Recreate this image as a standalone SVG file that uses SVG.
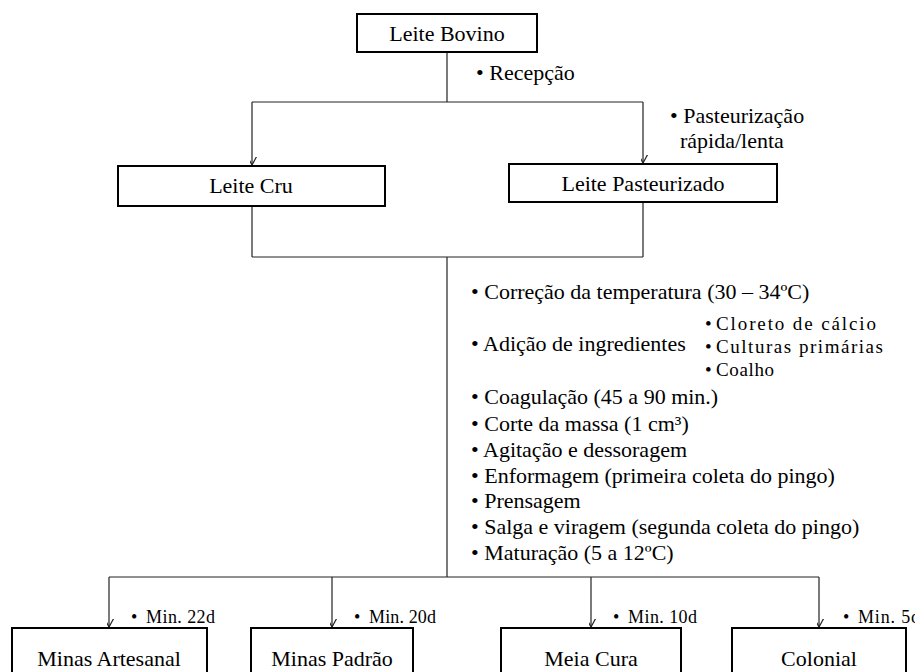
<svg xmlns="http://www.w3.org/2000/svg" width="915" height="672" viewBox="0 0 915 672" font-family="'Liberation Serif', 'DejaVu Serif', serif">
<style>
  text { font-family: 'Liberation Serif', 'DejaVu Serif', serif; fill: #000; }
  .box { fill: #fff; stroke: #000; stroke-width: 2; }
  .lbl { font-size: 22px; text-anchor: middle; }
  .step { font-size: 22px; }
  .sub { font-size: 19px; }
  .min { font-size: 18px; }
  .conn line, .conn path { stroke: #222; stroke-width: 1.2; fill: none; }
</style>
<defs>
  <marker id="arr" markerUnits="userSpaceOnUse" markerWidth="16" markerHeight="14" viewBox="-8 -12 16 14" refX="0" refY="0" orient="auto-start-reverse">
    <path d="M-6,-11 L0,0 L6,-11" fill="none" stroke="#222" stroke-width="1.2" transform="rotate(-90)"/>
  </marker>
</defs>
<rect width="915" height="672" fill="#fff"/>
<g class="conn" id="connectors">
  <line x1="447" y1="52" x2="447" y2="102"/>
  <line x1="252" y1="102" x2="643" y2="102"/>
  <line x1="252" y1="102" x2="252" y2="165" marker-end="url(#arr)"/>
  <line x1="643" y1="102" x2="643" y2="163" marker-end="url(#arr)"/>
  <line x1="252" y1="206" x2="252" y2="257"/>
  <line x1="643" y1="202" x2="643" y2="257"/>
  <line x1="252" y1="257" x2="643" y2="257"/>
  <line x1="447" y1="257" x2="447" y2="577"/>
  <line x1="109" y1="577" x2="819" y2="577"/>
  <line x1="109" y1="577" x2="109" y2="627" marker-end="url(#arr)"/>
  <line x1="332" y1="577" x2="332" y2="627" marker-end="url(#arr)"/>
  <line x1="591" y1="577" x2="591" y2="627" marker-end="url(#arr)"/>
  <line x1="819" y1="577" x2="819" y2="627" marker-end="url(#arr)"/>
</g>
<g id="leite-bovino">
  <rect class="box" x="357" y="14" width="180" height="38"/>
  <text class="lbl" x="447" y="41">Leite Bovino</text>
</g>
<g id="recepcao">
  <text class="step" x="476" y="80">• Recepção</text>
</g>
<g id="pasteurizacao">
  <text class="step" x="670" y="123">• Pasteurização</text>
  <text class="step" x="680" y="148">rápida/lenta</text>
</g>
<g id="leite-cru">
  <rect class="box" x="118" y="166" width="267" height="40"/>
  <text class="lbl" x="251" y="193">Leite Cru</text>
</g>
<g id="leite-pasteurizado">
  <rect class="box" x="509" y="164" width="268" height="38"/>
  <text class="lbl" x="643" y="191">Leite Pasteurizado</text>
</g>
<g id="etapas">
  <text class="step" x="471" y="299">• Correção da temperatura (30 – 34ºC)</text>
  <text class="step" x="471" y="351">• Adição de ingredientes</text>
  <text class="sub" x="705" y="330">•</text>
  <text class="sub" x="716" y="330" textLength="160" lengthAdjust="spacing">Cloreto de cálcio</text>
  <text class="sub" x="705" y="353">•</text>
  <text class="sub" x="716" y="353" textLength="167" lengthAdjust="spacing">Culturas primárias</text>
  <text class="sub" x="705" y="376">•</text>
  <text class="sub" x="716" y="376" textLength="58" lengthAdjust="spacing">Coalho</text>
  <text class="step" x="471" y="404">• Coagulação (45 a 90 min.)</text>
  <text class="step" x="471" y="431">• Corte da massa (1 cm³)</text>
  <text class="step" x="471" y="457">• Agitação e dessoragem</text>
  <text class="step" x="471" y="483">• Enformagem (primeira coleta do pingo)</text>
  <text class="step" x="471" y="508">• Prensagem</text>
  <text class="step" x="471" y="534">• Salga e viragem (segunda coleta do pingo)</text>
  <text class="step" x="471" y="560">• Maturação (5 a 12ºC)</text>
</g>
<g id="minas-artesanal">
  <rect class="box" x="12" y="628" width="195" height="60"/>
  <text class="lbl" x="109" y="666">Minas Artesanal</text>
  <text class="min" x="131" y="623">•</text>
  <text class="min" x="146" y="623" textLength="69" lengthAdjust="spacing">Min.  22d</text>
</g>
<g id="minas-padrao">
  <rect class="box" x="251" y="628" width="162" height="60"/>
  <text class="lbl" x="332" y="666">Minas Padrão</text>
  <text class="min" x="354" y="623">•</text>
  <text class="min" x="369" y="623" textLength="67" lengthAdjust="spacing">Min.  20d</text>
</g>
<g id="meia-cura">
  <rect class="box" x="501" y="628" width="180" height="60"/>
  <text class="lbl" x="591" y="666">Meia Cura</text>
  <text class="min" x="613" y="623">•</text>
  <text class="min" x="628" y="623" textLength="69" lengthAdjust="spacing">Min.  10d</text>
</g>
<g id="colonial">
  <rect class="box" x="732" y="628" width="174" height="60"/>
  <text class="lbl" x="819" y="666">Colonial</text>
  <text class="min" x="843" y="623">•</text>
  <text class="min" x="858" y="623" textLength="62" lengthAdjust="spacing">Min.  5d</text>
</g>
</svg>
